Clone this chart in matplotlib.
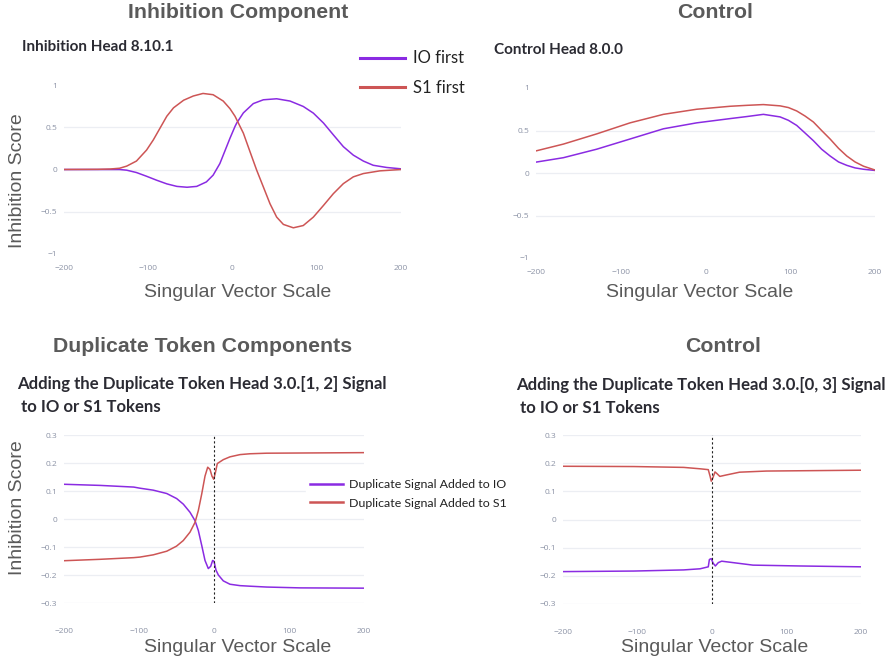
import numpy as np
import matplotlib
matplotlib.use('Agg')
import matplotlib.pyplot as plt
from matplotlib.ticker import FuncFormatter

# top-left: Inhibition Head 8.10.1
inh_io_x = [-200, -150, -134, -125.6, -114, -102, -90, -78, -66, -54, -42.5, -31, -23, -15, -7, -3, 3, 5,
            12.9, 24.7, 36.6, 52.4, 68.3, 84, 96, 108, 119.7, 131.6, 143.4, 155.3, 167, 183, 200]
inh_io_y = [0.0, 0.0, 0.0, -0.008, -0.036, -0.08, -0.127, -0.17, -0.2, -0.21, -0.2, -0.147, -0.067, 0.07,
            0.27, 0.37, 0.51, 0.55, 0.67, 0.78, 0.825, 0.837, 0.81, 0.746, 0.667, 0.55, 0.41, 0.27, 0.17,
            0.10, 0.05, 0.024, 0.008]
inh_s1_x = [-200, -160, -145, -134, -125.6, -114, -102, -94, -86, -78, -70, -58, -46.5, -35, -23, -11, -3,
            3, 12.9, 20.8, 28.7, 36.6, 44.5, 52.4, 60.4, 72.2, 84, 96, 108, 119.7, 131.6, 143.4, 155.3,
            175, 200]
inh_s1_y = [0.0, 0.002, 0.006, 0.015, 0.04, 0.10, 0.23, 0.35, 0.49, 0.63, 0.73, 0.82, 0.87, 0.90, 0.885,
            0.81, 0.72, 0.63, 0.43, 0.21, -0.008, -0.206, -0.405, -0.563, -0.65, -0.69, -0.663, -0.563,
            -0.425, -0.286, -0.167, -0.087, -0.048, -0.016, 0.0]

# top-right: Control Head 8.0.0
ctl_x = [-200, -167.7, -128.4, -89, -49.7, -10.4, 29, 48.7, 68.3, 88, 97.8, 107.6, 117.5, 127.3, 137,
         147, 157, 166.7, 176.5, 186.4, 200]
ctl_s1_y = [0.26, 0.34, 0.46, 0.59, 0.69, 0.75, 0.785, 0.796, 0.805, 0.79, 0.77, 0.73, 0.67, 0.60, 0.50,
            0.40, 0.29, 0.20, 0.13, 0.08, 0.035]
ctl_io_y = [0.128, 0.18, 0.28, 0.40, 0.52, 0.59, 0.64, 0.664, 0.69, 0.66, 0.62, 0.56, 0.47, 0.38, 0.28,
            0.20, 0.13, 0.09, 0.06, 0.044, 0.03]

# bottom-left: duplicate token head 3.0.[1, 2]
dup_io_x = [-200, -152, -107, -98.7, -81, -63, -49.8, -40.9, -32, -25.3, -20.9, -16.4, -12, -7.6, -4.4,
            -1.8, 0, 2.7, 5.8, 12.4, 21.3, 34.7, 48, 70, 115, 200]
dup_io_y = [0.124, 0.12, 0.114, 0.11, 0.103, 0.091, 0.073, 0.053, 0.024, -0.006, -0.041, -0.094, -0.148,
            -0.177, -0.169, -0.148, -0.151, -0.183, -0.2, -0.221, -0.233, -0.238, -0.24, -0.243, -0.246,
            -0.247]
dup_s1_x = [-200, -152, -107, -98.7, -81, -63, -50, -41, -32, -25.3, -20.9, -16.4, -12, -8.4, -5.3, -2.7,
            -0.4, 1.8, 4.4, 12.4, 21.3, 34.7, 48, 70, 200]
dup_s1_y = [-0.149, -0.144, -0.138, -0.136, -0.128, -0.115, -0.097, -0.077, -0.047, -0.012, 0.03, 0.089,
            0.153, 0.185, 0.177, 0.153, 0.142, 0.165, 0.198, 0.212, 0.222, 0.23, 0.233, 0.235, 0.237]

# bottom-right: duplicate token head 3.0.[0, 3] (control)
dc_s1_x = [-200, -105, -38, -16, -5, -2.5, -1, 1.5, 4, 7, 10.5, 19, 37, 73, 200]
dc_s1_y = [0.189, 0.188, 0.185, 0.18, 0.177, 0.153, 0.136, 0.15, 0.169, 0.162, 0.153, 0.158, 0.168,
           0.172, 0.175]
dc_io_x = [-200, -105, -38, -16, -5, -3.5, -1, 1.5, 4.5, 8.5, 13, 28, 55, 118, 200]
dc_io_y = [-0.185, -0.183, -0.179, -0.175, -0.168, -0.142, -0.139, -0.155, -0.165, -0.153, -0.148,
           -0.153, -0.162, -0.165, -0.168]

x_ticks = [-200, -100, 0, 100, 200]
top_yticks = [-1, -0.5, 0, 0.5, 1]
bot_yticks = [-0.3, -0.2, -0.1, 0, 0.1, 0.2, 0.3]

PURPLE = '#8a2be2'
RED = '#cd5555'
GRID = '#eceef3'
TICK = '#8c93a6'
LABEL = '#5a5a5a'

W, H = 891, 659
fig = plt.figure(figsize=(W / 100, H / 100), dpi=100)


def fx(px):
    return px / W


def fy(py):
    return 1 - py / H


def add_axes(x0, x1, ytop, ybot):
    return fig.add_axes([fx(x0), fy(ybot), (x1 - x0) / W, (ybot - ytop) / H])


fmt = FuncFormatter(lambda v, p: ('%g' % v).replace('-', '\u2212'))


def style(ax, yticks, ylim, inner_grid, xpad):
    ax.set_xlim(-200, 200)
    ax.set_ylim(*ylim)
    ax.set_xticks(x_ticks)
    ax.set_yticks(yticks)
    ax.xaxis.set_major_formatter(fmt)
    ax.yaxis.set_major_formatter(fmt)
    for s in ax.spines.values():
        s.set_visible(False)
    ax.tick_params(length=0, labelsize=6, labelcolor=TICK)
    ax.tick_params(axis='x', pad=xpad)
    ax.tick_params(axis='y', pad=5)
    for t in ax.get_xticklabels() + ax.get_yticklabels():
        t.set_fontfamily('Open Sans')
    grid_vals = yticks[1:-1] if inner_grid else yticks
    for g in grid_vals:
        ax.axhline(g, color=GRID, lw=0.9, zorder=0)


ax1 = add_axes(64, 401, 85, 254)
ax2 = add_axes(536, 875, 88, 258)
ax3 = add_axes(64, 364, 435, 603)
ax4 = add_axes(563, 861, 435, 604)

lw = 1.1
l_io, = ax1.plot(inh_io_x, inh_io_y, color=PURPLE, lw=lw, label='IO first')
l_s1, = ax1.plot(inh_s1_x, inh_s1_y, color=RED, lw=lw, label='S1 first')
ax2.plot(ctl_x, ctl_io_y, color=PURPLE, lw=lw)
ax2.plot(ctl_x, ctl_s1_y, color=RED, lw=lw)
d_io, = ax3.plot(dup_io_x, dup_io_y, color=PURPLE, lw=lw, label='Duplicate Signal Added to IO')
d_s1, = ax3.plot(dup_s1_x, dup_s1_y, color=RED, lw=lw, label='Duplicate Signal Added to S1')
ax4.plot(dc_io_x, dc_io_y, color=PURPLE, lw=lw)
ax4.plot(dc_s1_x, dc_s1_y, color=RED, lw=lw)

for ax in (ax3, ax4):
    ax.axvline(0, color='#222222', lw=0.8, ls=(0, (2, 2)), zorder=3)

style(ax1, top_yticks, (-1, 1), True, 8)
style(ax2, top_yticks, (-1, 1), True, 8)
style(ax3, bot_yticks, (-0.3, 0.3), False, 18)
style(ax4, bot_yticks, (-0.3, 0.3), False, 18)

# axis titles
lab = dict(fontsize=14, color=LABEL, family='Liberation Sans')
fig.text(fx(238), fy(293), 'Singular Vector Scale', ha='center', va='center', **lab)
fig.text(fx(700), fy(293), 'Singular Vector Scale', ha='center', va='center', **lab)
fig.text(fx(238), fy(647), 'Singular Vector Scale', ha='center', va='center', **lab)
fig.text(fx(715), fy(647), 'Singular Vector Scale', ha='center', va='center', **lab)
fig.text(fx(18), fy(181), 'Inhibition Score', ha='center', va='center', rotation=90, **lab)
fig.text(fx(18), fy(508), 'Inhibition Score', ha='center', va='center', rotation=90, **lab)

# section headers
hdr = dict(fontsize=15.3, color=LABEL, family='Liberation Sans', weight='bold', ha='center', va='center')
fig.text(fx(238), fy(12), 'Inhibition Component', **hdr)
fig.text(fx(715), fy(12), 'Control', **hdr)
fig.text(fx(203), fy(347), 'Duplicate Token Components', **hdr)
fig.text(fx(723), fy(347), 'Control', **hdr)

# plot titles
sub = dict(color='#2b2b33', family='Lato', weight='bold', ha='left', va='center')
fig.text(fx(22), fy(47), 'Inhibition Head 8.10.1', fontsize=11, **sub)
fig.text(fx(494), fy(50), 'Control Head 8.0.0', fontsize=11, **sub)
fig.text(fx(17), fy(384), 'Adding the Duplicate Token Head 3.0.[1, 2] Signal', fontsize=12.1, **sub)
fig.text(fx(17), fy(407), ' to IO or S1 Tokens', fontsize=12.1, **sub)
fig.text(fx(516), fy(385), 'Adding the Duplicate Token Head 3.0.[0, 3] Signal', fontsize=12.1, **sub)
fig.text(fx(516), fy(408), ' to IO or S1 Tokens', fontsize=12.1, **sub)

# legends
leg1 = fig.legend(handles=[l_io, l_s1], loc='center left', bbox_to_anchor=(fx(345), fy(73)),
                  frameon=False, prop={'family': 'Lato', 'size': 12}, handlelength=2.7,
                  handletextpad=0.5, labelspacing=0.8, labelcolor='#222222')
for h in leg1.get_lines():
    h.set_linewidth(2.2)
leg2 = ax3.legend(handles=[d_io, d_s1], loc='center left', bbox_to_anchor=(fx(300), fy(494)),
                  bbox_transform=fig.transFigure, frameon=True, facecolor='white', edgecolor='white',
                  framealpha=1, prop={'family': 'Lato', 'size': 8.9}, handlelength=2.65,
                  handletextpad=0.5, labelspacing=0.6, labelcolor='#222222', borderpad=0.3)
for h in leg2.get_lines():
    h.set_linewidth(1.8)
leg2.set_clip_on(False)

fig.savefig('out.png', dpi=100)
